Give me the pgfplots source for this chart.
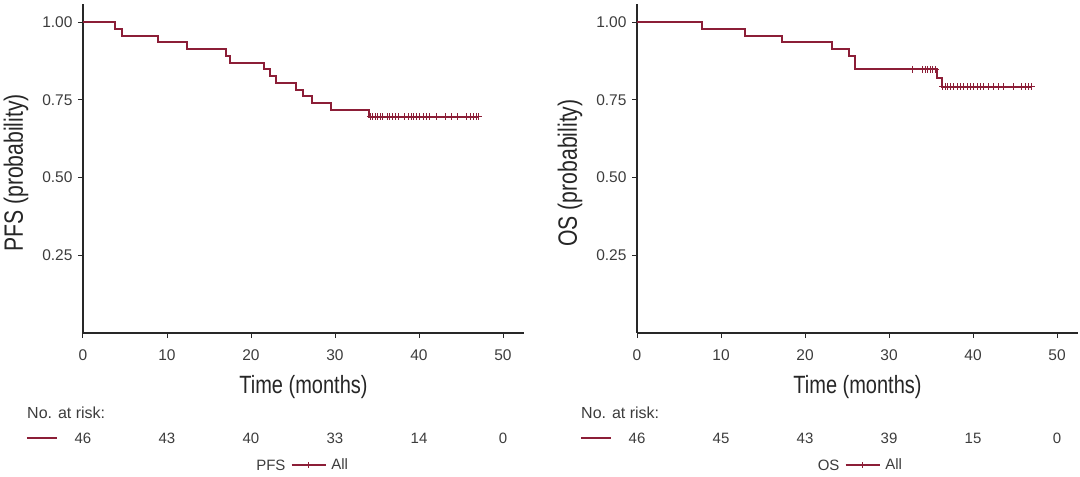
\documentclass[border=0pt]{standalone}
\usepackage{fontspec}
\setmainfont{Liberation Sans}
\newfontfamily\condfont[FakeStretch=0.8]{Liberation Sans}
\usepackage{pgfplots}
\pgfplotsset{compat=1.18}

\definecolor{kmred}{RGB}{140,30,55}
\definecolor{axgray}{RGB}{40,40,40}
\definecolor{txtgray}{RGB}{60,60,60}

\pgfplotsset{kmaxis/.style={
  scale only axis, width=441pt, height=329pt,
  xmin=0, xmax=52.5, ymin=0, ymax=1.058,
  axis lines=left, axis line style={-, line width=1.3pt, axgray},
  xtick={0,10,20,30,40,50}, ytick={0.25,0.5,0.75,1},
  yticklabels={0.25,0.50,0.75,1.00},
  tick align=outside, major tick length=5pt,
  tick style={line width=1pt, axgray},
  /pgf/number format/assume math mode=true,
  tick label style={font=\fontsize{15.5}{18}\selectfont, text=txtgray},
  xticklabel style={yshift=-8pt},
  yticklabel style={xshift=-2pt},
  clip=false,
  legend style={draw=none, fill=none, inner sep=0pt, outer sep=0pt,
    font=\fontsize{15}{18}\selectfont, text=txtgray,
    nodes={inner xsep=5pt}},
  legend image code/.code={\draw[mark repeat=2,mark phase=2,##1] plot coordinates {(0pt,0pt) (17pt,0pt) (34pt,0pt)};},
}}

\begin{document}
\begin{tikzpicture}
% ---------------- PFS ----------------
\begin{axis}[kmaxis, at={(0pt,0pt)}, anchor=south west,
  legend style={at={(0.4717,0)}, anchor=west, yshift=-132pt}]
\addplot[const plot, kmred, line width=2pt, forget plot] coordinates {
(0,1) (3.8,0.9783) (4.6,0.9565) (8.9,0.9348) (12.4,0.9130) (17.0,0.8913)
(17.5,0.8696) (21.5,0.8478) (22.3,0.8261) (23.0,0.8043) (25.4,0.7826)
(26.2,0.7609) (27.3,0.7391) (29.5,0.7174) (34.0,0.6957) (47.1,0.6957)};
\addplot[only marks, mark=+, mark size=3.5pt, kmred, line width=1pt, forget plot] coordinates {
(34.2,0.6957) (34.5,0.6957) (34.8,0.6957) (35.1,0.6957) (35.4,0.6957) (35.7,0.6957)
(36.2,0.6957) (36.5,0.6957) (36.9,0.6957) (37.2,0.6957) (37.6,0.6957) (38.3,0.6957)
(38.7,0.6957) (39.1,0.6957) (39.4,0.6957) (39.7,0.6957) (40.1,0.6957) (40.5,0.6957)
(40.9,0.6957) (41.3,0.6957) (42.1,0.6957) (43.1,0.6957) (43.9,0.6957) (44.6,0.6957)
(45.7,0.6957) (46.1,0.6957) (46.5,0.6957) (46.8,0.6957) (47.1,0.6957)};
\addlegendimage{kmred, line width=1.3pt, mark=+, mark size=3pt}
\addlegendentry{All}
\end{axis}
% ---------------- OS ----------------
\begin{axis}[kmaxis, at={(554pt,0pt)}, anchor=south west,
  legend style={at={(0.4717,0)}, anchor=west, yshift=-132pt}]
\addplot[const plot, kmred, line width=2pt, forget plot] coordinates {
(0,1) (7.7,0.9783) (12.9,0.9565) (17.3,0.9348) (23.2,0.9130) (25.2,0.8913)
(26.0,0.8478) (35.7,0.820) (36.3,0.792) (47.0,0.792)};
\addplot[only marks, mark=+, mark size=3.5pt, kmred, line width=1pt, forget plot] coordinates {
(32.8,0.8478) (34.0,0.8478) (34.3,0.8478) (34.6,0.8478) (34.9,0.8478) (35.2,0.8478) (35.5,0.8478)
(36.4,0.792) (36.7,0.792) (37.0,0.792) (37.3,0.792) (37.7,0.792) (38.1,0.792) (38.5,0.792)
(38.9,0.792) (39.3,0.792) (39.7,0.792) (40.1,0.792) (40.5,0.792) (40.9,0.792) (41.3,0.792)
(41.8,0.792) (42.4,0.792) (43.0,0.792) (43.6,0.792) (44.8,0.792) (45.8,0.792) (46.2,0.792)
(46.6,0.792) (47.0,0.792)};
\addlegendimage{kmred, line width=1.3pt, mark=+, mark size=3pt}
\addlegendentry{All}
\end{axis}

% ---------------- labels and risk tables ----------------
\foreach \dx/\lab in {0/PFS, 554/OS}{
  \node[rotate=90, font=\condfont\fontsize{26.5}{30}\selectfont, text=black!85] at (\dx pt-67pt,160pt) {\lab\ (probability)};
  \node[font=\condfont\fontsize{25}{29}\selectfont, text=black!85] at (\dx pt+220.5pt,-54pt) {Time (months)};
  \node[anchor=west, font=\fontsize{16}{19}\selectfont, text=txtgray, inner sep=0pt] at (\dx pt-56pt,-80pt) {No. at risk:};
  \draw[kmred, line width=1.8pt] (\dx pt-56pt,-105pt) -- (\dx pt-26pt,-105pt);
  \node[anchor=east, font=\fontsize{15}{18}\selectfont, text=txtgray] at (\dx pt+206pt,-132pt) {\lab};
}
\foreach \x/\n in {0/46, 84/43, 168/40, 252/33, 336/14, 420/0}{
  \node[font=\fontsize{15}{18}\selectfont, text=txtgray] at (\x pt,-105pt) {\n};
}
\foreach \x/\n in {0/46, 84/45, 168/43, 252/39, 336/15, 420/0}{
  \node[font=\fontsize{15}{18}\selectfont, text=txtgray] at (554pt+\x pt,-105pt) {\n};
}
\pgfresetboundingbox
\path[use as bounding box] (-83pt,-144pt) rectangle (997pt,333pt);
\end{tikzpicture}
\end{document}
